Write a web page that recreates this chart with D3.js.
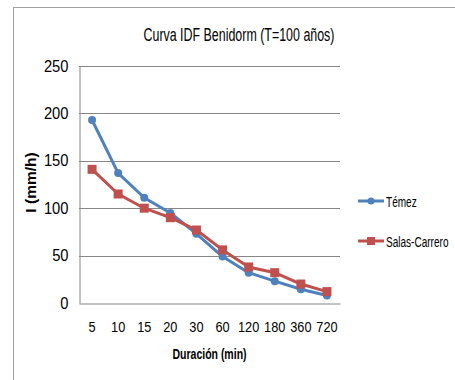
<!DOCTYPE html>
<html>
<head>
<meta charset="utf-8">
<script src="https://cdn.jsdelivr.net/npm/d3@7"></script>
<style>
  html, body { margin: 0; padding: 0; background: #fff; }
  svg { display: block; }
  text { font-family: "Liberation Sans", Arial, sans-serif; fill: #000; }
</style>
</head>
<body>
<svg id="chart" width="455" height="380"></svg>
<script>
// Durations (min) and intensities (mm/h) for T = 100 years
const durations = ["5", "10", "15", "20", "30", "60", "120", "180", "360", "720"];
const temez = [193, 137, 111, 95, 73, 49, 32, 23, 14.5, 8];
const salasCarrero = [141, 115, 100, 90, 77, 56, 38, 32, 20, 12];
const yTicks = [0, 50, 100, 150, 200, 250];

const series = [
  { name: "Témez", values: temez, color: "#4F81BD", marker: "circle" },
  { name: "Salas-Carrero", values: salasCarrero, color: "#C0504D", marker: "square" }
];

const svg = d3.select("#chart");
const plot = { left: 79, right: 340, top: 66, bottom: 303 };

// Narrow the glyphs of a text selection horizontally, keeping its anchor
function condense(sel, factor) {
  sel.each(function () {
    const w = this.getComputedTextLength();
    d3.select(this)
      .attr("textLength", w * factor)
      .attr("lengthAdjust", "spacingAndGlyphs");
  });
}

// Chart area border (top and left edges visible)
svg.append("rect")
  .attr("x", 13.5).attr("y", 7.5)
  .attr("width", 600).attr("height", 600)
  .attr("fill", "none").attr("stroke", "#a0a0a0").attr("stroke-width", 1);

const x = d3.scaleBand().domain(durations).range([plot.left, plot.right]);
const y = d3.scaleLinear().domain([0, 250]).range([plot.bottom, plot.top]);

// Horizontal gridlines
svg.append("g")
  .selectAll("line")
  .data(yTicks.filter(d => d > 0))
  .join("line")
  .attr("x1", plot.left).attr("x2", plot.right)
  .attr("y1", d => Math.round(y(d)) + 0.5).attr("y2", d => Math.round(y(d)) + 0.5)
  .attr("stroke", "#868686").attr("stroke-width", 1);

// Y axis
const yAxis = svg.append("g")
  .attr("transform", `translate(${plot.left + 0.5},0)`)
  .call(d3.axisLeft(y).tickValues(yTicks).tickSize(0).tickPadding(11));
yAxis.select(".domain").attr("stroke", "#868686");
yAxis.selectAll("text")
  .style("font-size", "16px").style("font-family", "'Liberation Sans', sans-serif")
  .call(condense, 0.92);

// X axis
const xAxis = svg.append("g")
  .attr("transform", `translate(0,${plot.bottom + 0.5})`)
  .call(d3.axisBottom(x).tickSize(0).tickPadding(18));
xAxis.select(".domain").attr("stroke", "#868686");
xAxis.selectAll("text")
  .style("font-size", "15px").style("font-family", "'Liberation Sans', sans-serif")
  .call(condense, 0.85);

// Title
svg.append("text")
  .attr("x", 239).attr("y", 41)
  .attr("text-anchor", "middle")
  .style("font-size", "17.5px")
  .text("Curva IDF Benidorm (T=100 años)")
  .call(condense, 0.71);

// Axis titles
svg.append("text")
  .attr("x", (plot.left + plot.right) / 2).attr("y", 359)
  .attr("text-anchor", "middle")
  .style("font-size", "15px").style("font-weight", "bold")
  .text("Duración (min)")
  .call(condense, 0.7);

svg.append("text")
  .attr("transform", `translate(36,${(plot.top + plot.bottom) / 2 - 2}) rotate(-90)`)
  .attr("text-anchor", "middle")
  .style("font-size", "15.5px").style("font-weight", "bold")
  .text("I (mm/h)");

const line = d3.line()
  .x((d, i) => x(durations[i]) + x.bandwidth() / 2)
  .y(d => y(d));

// Series lines and markers
series.forEach(s => {
  const g = svg.append("g");
  g.append("path")
    .datum(s.values)
    .attr("d", line)
    .attr("fill", "none")
    .attr("stroke", s.color)
    .attr("stroke-width", 3)
    .attr("stroke-linejoin", "round");
  if (s.marker === "circle") {
    g.selectAll("circle")
      .data(s.values)
      .join("circle")
      .attr("cx", (d, i) => x(durations[i]) + x.bandwidth() / 2)
      .attr("cy", d => y(d))
      .attr("r", 4)
      .attr("fill", s.color);
  } else {
    g.selectAll("rect")
      .data(s.values)
      .join("rect")
      .attr("x", (d, i) => x(durations[i]) + x.bandwidth() / 2 - 4.5)
      .attr("y", d => y(d) - 4.5)
      .attr("width", 9).attr("height", 9)
      .attr("fill", s.color);
  }
});

// Legend (labels narrowed with a horizontal scale)
const legend = svg.append("g");
series.forEach((s, i) => {
  const ly = 201 + i * 40;
  legend.append("line")
    .attr("x1", 358).attr("x2", 384)
    .attr("y1", ly).attr("y2", ly)
    .attr("stroke", s.color).attr("stroke-width", 3);
  if (s.marker === "circle") {
    legend.append("circle").attr("cx", 371).attr("cy", ly).attr("r", 3.5).attr("fill", s.color);
  } else {
    legend.append("rect").attr("x", 367).attr("y", ly - 4).attr("width", 8).attr("height", 8).attr("fill", s.color);
  }
  legend.append("text")
    .attr("transform", `translate(386,${ly + 5.5}) scale(0.67,1)`)
    .style("font-size", "15px")
    .text(s.name);
});
</script>
</body>
</html>
